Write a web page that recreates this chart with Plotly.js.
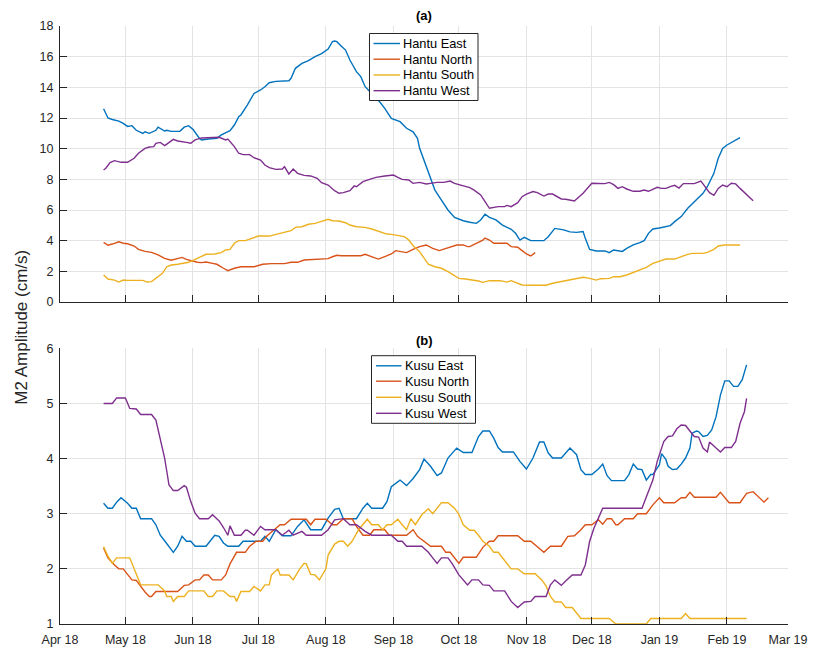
<!DOCTYPE html>
<html>
<head>
<meta charset="utf-8">
<script src="https://cdn.plot.ly/plotly-3.0.1.min.js"></script>
<style>html,body{margin:0;padding:0;background:#fff;}#chart{width:814px;height:648px;}</style>
</head>
<body>
<div id="chart"></div>
<script>
// "MM-DD": months Apr-Dec are 2018, Jan-Mar are 2019
function toDate(s){ var m = parseInt(s.slice(0,2),10); return (m >= 4 ? '2018-' : '2019-') + s; }

// ---------- Panel (a) Hantu ----------
var hantuEastDates = ["04-21","04-23","04-25","04-28","04-30","05-02","05-04","05-06","05-09","05-10","05-12","05-15","05-16","05-19","05-20","05-22","05-26","05-28","05-30","06-01","06-04","06-05","06-08","06-12","06-14","06-17","06-18","06-20","06-22","06-23","06-26","06-29","07-02","07-04","07-06","07-09","07-15","07-16","07-18","07-21","07-24","07-27","07-30","08-02","08-04","08-05","08-06","08-08","08-10","08-12","08-15","08-17","08-19","08-22","08-25","08-28","08-31","09-04","09-07","09-10","09-12","09-13","09-16","09-18","09-20","09-23","09-26","09-29","10-03","10-06","10-09","10-11","10-13","10-15","10-18","10-21","10-25","10-27","10-29","10-31","11-03","11-09","11-11","11-14","11-18","11-21","11-24","11-27","11-28","11-30","12-03","12-07","12-09","12-11","12-13","12-15","12-17","12-20","12-23","12-25","12-27","12-29","01-01","01-04","01-06","01-08","01-11","01-14","01-17","01-19","01-21","01-23","01-26","01-28","01-30","02-01","02-03","02-07"];
var hantuEast = [12.6,12.0,11.9,11.8,11.65,11.45,11.5,11.2,11.0,11.1,11.0,11.2,11.4,11.15,11.2,11.13,11.13,11.4,11.5,11.26,10.67,10.57,10.63,10.67,10.9,11.1,11.17,11.54,12.09,12.2,12.85,13.6,13.83,14.04,14.3,14.39,14.43,14.59,15.24,15.56,15.74,16.0,16.2,16.5,16.98,17.02,16.98,16.7,16.43,15.78,15.02,14.7,14.04,13.6,13.17,12.63,11.98,11.76,11.33,11.1,10.67,10.02,8.83,7.96,7.3,6.65,6.0,5.52,5.3,5.2,5.13,5.35,5.72,5.52,5.35,5.02,4.74,4.48,4.04,4.22,4.0,4.0,4.26,4.8,4.7,4.57,4.54,4.59,4.15,3.43,3.33,3.33,3.22,3.39,3.35,3.3,3.5,3.72,3.87,4.0,4.48,4.76,4.83,4.91,4.98,5.24,5.57,6.11,6.54,6.8,7.09,7.52,8.39,9.37,10.02,10.24,10.39,10.72];

var hantuNorthDates = ["04-21","04-23","04-25","04-28","04-30","05-02","05-05","05-07","05-10","05-13","05-16","05-19","05-22","05-25","05-27","05-29","05-31","06-03","06-05","06-07","06-10","06-12","06-15","06-17","06-20","06-23","06-29","07-03","07-07","07-13","07-16","07-19","07-22","07-25","07-28","08-02","08-04","08-06","08-08","08-17","08-19","08-22","08-25","08-28","08-31","09-02","09-04","09-07","09-10","09-13","09-16","09-19","09-22","09-25","09-28","09-30","10-03","10-05","10-06","10-09","10-12","10-13","10-15","10-17","10-23","10-25","10-28","10-30","11-01","11-03","11-05"];
var hantuNorth = [3.89,3.7,3.78,3.93,3.83,3.8,3.65,3.43,3.3,3.24,3.07,2.85,2.72,2.85,2.91,2.78,2.7,2.59,2.57,2.61,2.52,2.46,2.2,2.04,2.2,2.3,2.3,2.46,2.5,2.5,2.59,2.59,2.74,2.76,2.8,2.83,2.95,3.05,3.02,3.02,3.11,2.96,2.8,2.96,3.13,3.35,3.28,3.22,3.43,3.61,3.72,3.5,3.35,3.5,3.61,3.72,3.72,3.61,3.61,3.83,4.04,4.17,4.04,3.83,3.83,3.61,3.57,3.35,3.13,3.0,3.22];

var hantuSouthDates = ["04-21","04-23","04-26","04-28","04-30","05-02","05-09","05-11","05-13","05-15","05-18","05-20","05-22","05-25","05-28","05-30","06-02","06-05","06-07","06-11","06-14","06-16","06-18","06-20","06-22","06-25","06-27","07-01","07-06","07-09","07-12","07-16","07-18","07-21","07-24","07-27","07-30","08-02","08-04","08-07","08-10","08-12","08-15","08-19","08-22","08-26","08-29","08-31","09-03","09-06","09-08","09-10","09-13","09-15","09-17","09-20","09-23","09-26","09-29","10-01","10-04","10-08","10-10","10-12","10-15","10-20","10-23","10-25","10-28","10-30","11-03","11-10","11-13","11-15","11-18","11-21","11-22","11-25","11-27","11-30","12-03","12-05","12-09","12-11","12-14","12-17","12-20","12-23","12-26","12-29","01-01","01-04","01-08","01-11","01-14","01-16","01-21","01-23","01-26","01-28","01-31","02-07"];
var hantuSouth = [1.76,1.5,1.43,1.3,1.43,1.41,1.41,1.3,1.33,1.54,1.87,2.3,2.41,2.46,2.52,2.59,2.78,3.0,3.11,3.13,3.22,3.39,3.43,3.83,4.0,4.0,4.11,4.3,4.3,4.41,4.48,4.65,4.87,4.91,5.07,5.13,5.26,5.39,5.3,5.28,5.17,5.02,4.91,4.87,4.76,4.59,4.43,4.41,4.33,4.26,4.04,3.67,3.28,2.91,2.46,2.3,2.2,1.98,1.7,1.54,1.5,1.43,1.37,1.28,1.39,1.39,1.3,1.39,1.22,1.11,1.09,1.09,1.22,1.28,1.37,1.45,1.48,1.54,1.61,1.54,1.43,1.52,1.54,1.65,1.65,1.76,1.93,2.09,2.26,2.52,2.67,2.8,2.8,2.96,3.11,3.17,3.17,3.24,3.43,3.65,3.72,3.72];

var hantuWestDates = ["04-21","04-22","04-24","04-26","04-29","05-02","05-05","05-07","05-10","05-12","05-14","05-15","05-17","05-19","05-20","05-23","05-25","05-27","05-29","05-31","06-02","06-05","06-08","06-11","06-13","06-16","06-17","06-20","06-22","06-24","06-27","06-29","07-02","07-04","07-06","07-09","07-12","07-13","07-15","07-17","07-19","07-22","07-25","07-28","07-30","08-02","08-05","08-07","08-09","08-12","08-14","08-15","08-18","08-21","08-24","08-28","08-31","09-01","09-03","09-05","09-08","09-10","09-13","09-16","09-18","09-21","09-24","09-27","09-29","10-03","10-06","10-08","10-11","10-13","10-15","10-19","10-22","10-23","10-25","10-28","10-30","11-01","11-04","11-06","11-09","11-11","11-13","11-17","11-19","11-23","11-27","12-01","12-07","12-09","12-11","12-13","12-15","12-17","12-20","12-23","12-25","12-27","12-29","12-31","01-02","01-04","01-06","01-08","01-10","01-12","01-17","01-20","01-21","01-24","01-26","01-28","01-30","02-01","02-03","02-05","02-07","02-10","02-13"];
var hantuWest = [8.61,8.72,9.09,9.22,9.11,9.11,9.37,9.7,10.02,10.11,10.13,10.35,10.41,10.2,10.3,10.61,10.5,10.43,10.41,10.35,10.57,10.7,10.72,10.7,10.74,10.57,10.63,10.13,9.7,9.61,9.61,9.41,9.26,8.93,8.76,8.65,8.67,8.83,8.35,8.67,8.39,8.26,8.22,8.07,7.78,7.63,7.26,7.09,7.13,7.26,7.57,7.52,7.85,8.0,8.13,8.22,8.28,8.28,8.13,8.0,7.96,7.74,7.8,7.7,7.74,7.8,7.8,7.89,7.74,7.59,7.46,7.3,6.98,6.54,6.11,6.22,6.22,6.3,6.22,6.48,6.87,7.04,7.2,7.13,6.91,7.04,7.04,6.72,6.7,6.59,7.09,7.74,7.72,7.8,7.65,7.41,7.52,7.37,7.22,7.22,7.3,7.22,7.35,7.48,7.41,7.41,7.52,7.61,7.43,7.72,7.72,7.89,7.7,7.13,6.96,7.41,7.63,7.52,7.74,7.7,7.41,7.04,6.61];

// ---------- Panel (b) Kusu ----------
var kusuEastDates = ["04-21","04-23","04-25","04-27","04-29","05-02","05-04","05-06","05-08","05-13","05-15","05-17","05-19","05-21","05-23","05-25","05-27","05-29","05-31","06-02","06-07","06-09","06-11","06-13","06-15","06-17","06-22","06-24","06-30","07-02","07-04","07-06","07-09","07-12","07-16","07-19","07-22","07-25","07-30","08-02","08-05","08-07","08-09","08-15","08-18","08-20","08-22","08-27","08-29","08-31","09-04","09-07","09-10","09-13","09-15","09-18","09-21","09-23","09-26","09-30","10-03","10-07","10-10","10-12","10-15","10-17","10-19","10-21","10-26","10-29","11-01","11-04","11-07","11-09","11-11","11-13","11-17","11-21","11-24","11-26","11-28","12-01","12-04","12-06","12-08","12-10","12-16","12-18","12-20","12-22","12-24","12-26","12-28","12-29","01-01","01-02","01-04","01-05","01-07","01-09","01-11","01-13","01-15","01-16","01-18","01-19","01-21","01-23","01-25","01-27","01-29","01-31","02-02","02-04","02-06","02-08","02-10"];
var kusuEast = [3.19,3.1,3.1,3.21,3.29,3.19,3.1,3.1,2.91,2.91,2.8,2.61,2.51,2.41,2.3,2.41,2.59,2.5,2.5,2.41,2.41,2.51,2.61,2.59,2.47,2.41,2.41,2.5,2.5,2.5,2.59,2.5,2.71,2.6,2.6,2.77,2.89,2.71,2.71,2.92,3.08,3.1,2.91,2.91,3.1,3.19,3.1,3.1,3.22,3.49,3.61,3.51,3.64,3.8,3.99,3.86,3.69,3.74,4.01,4.19,4.11,4.11,4.4,4.5,4.5,4.37,4.2,4.12,4.12,3.95,3.81,4.01,4.3,4.3,4.1,4.01,4.01,4.19,4.07,3.8,3.71,3.71,3.81,3.9,3.69,3.6,3.6,3.71,3.9,3.81,3.8,3.61,3.71,3.71,3.89,4.09,3.98,3.86,3.8,3.81,3.9,4.01,4.19,4.46,4.5,4.49,4.4,4.42,4.52,4.76,5.15,5.41,5.41,5.31,5.31,5.43,5.7];

var kusuNorthDates = ["04-21","04-23","04-26","04-28","04-30","05-02","05-04","05-06","05-08","05-10","05-12","05-13","05-15","05-25","05-28","05-30","06-02","06-04","06-06","06-08","06-10","06-14","06-16","06-18","06-21","06-25","06-27","06-30","07-03","07-05","07-08","07-11","07-13","07-16","07-23","07-25","07-27","08-01","08-04","08-06","08-09","08-13","08-15","08-18","08-21","08-23","08-28","08-30","09-07","09-10","09-12","09-15","09-18","09-23","09-25","09-27","10-01","10-03","10-09","10-12","10-15","10-17","10-19","10-28","10-31","11-03","11-06","11-09","11-12","11-17","11-20","11-23","11-26","11-28","12-01","12-04","12-06","12-08","12-10","12-12","12-13","12-16","12-20","12-22","12-26","12-29","01-01","01-03","01-08","01-11","01-13","01-15","01-17","01-27","01-29","01-31","02-02","02-07","02-10","02-13","02-16","02-18","02-20"];
var kusuNorth = [2.38,2.2,2.07,2.0,2.0,1.89,1.8,1.79,1.68,1.58,1.5,1.5,1.59,1.59,1.7,1.71,1.8,1.8,1.89,1.89,1.8,1.8,1.89,2.09,2.3,2.3,2.41,2.5,2.5,2.6,2.7,2.8,2.8,2.9,2.9,2.8,2.9,2.9,2.8,2.8,2.91,2.91,2.77,2.61,2.61,2.71,2.71,2.61,2.61,2.71,2.59,2.5,2.41,2.41,2.3,2.3,2.1,2.21,2.21,2.39,2.5,2.5,2.6,2.6,2.5,2.5,2.4,2.3,2.41,2.41,2.59,2.6,2.71,2.8,2.8,2.89,2.81,2.91,2.91,2.8,2.8,2.91,2.91,3.0,3.0,3.16,3.29,3.2,3.2,3.29,3.29,3.39,3.3,3.3,3.39,3.29,3.2,3.2,3.37,3.4,3.29,3.21,3.29];

var kusuSouthDates = ["04-21","04-23","04-25","04-27","05-03","05-06","05-08","05-16","05-19","05-20","05-22","05-23","05-25","05-28","05-30","06-06","06-08","06-10","06-12","06-15","06-18","06-20","06-21","06-23","06-27","06-29","07-02","07-04","07-06","07-07","07-10","07-11","07-15","07-17","07-20","07-22","07-23","07-25","07-27","07-29","08-01","08-02","08-05","08-07","08-09","08-11","08-13","08-16","08-18","08-20","08-22","08-25","08-27","08-29","08-31","09-03","09-05","09-07","09-09","09-11","09-14","09-17","09-19","09-21","09-23","09-26","09-29","10-01","10-03","10-06","10-08","10-10","10-12","10-15","10-17","10-19","10-21","10-23","10-25","10-28","10-31","11-05","11-08","11-10","11-12","11-14","11-17","11-19","11-22","11-24","11-26","12-09","12-12","12-26","12-28","01-11","01-13","01-15","02-10"];
var kusuSouth = [2.4,2.23,2.1,2.2,2.2,1.89,1.71,1.71,1.6,1.5,1.5,1.41,1.5,1.5,1.6,1.6,1.5,1.5,1.6,1.6,1.5,1.5,1.41,1.59,1.59,1.68,1.6,1.71,1.71,1.89,2.0,1.89,1.89,1.8,2.0,2.1,2.09,1.9,1.89,1.8,2.0,2.25,2.45,2.5,2.5,2.41,2.5,2.71,2.8,2.9,2.8,2.8,2.71,2.8,2.8,2.9,2.8,2.71,2.91,2.8,2.98,3.09,3.0,3.1,3.2,3.2,3.1,2.99,2.8,2.7,2.7,2.61,2.5,2.41,2.3,2.3,2.2,2.1,2.0,2.0,1.91,1.91,1.8,1.69,1.5,1.4,1.4,1.3,1.3,1.2,1.1,1.1,1.0,1.0,1.1,1.1,1.19,1.1,1.1];

var kusuWestDates = ["04-21","04-25","04-27","05-01","05-03","05-06","05-08","05-13","05-15","05-17","05-19","05-20","05-21","05-23","05-25","05-28","05-29","05-31","06-02","06-04","06-08","06-10","06-13","06-15","06-17","06-18","06-20","06-23","06-25","06-26","06-29","07-02","07-04","07-09","07-12","07-15","07-17","07-21","07-23","07-30","08-02","08-05","08-09","08-12","08-15","08-19","08-22","08-31","09-03","09-05","09-07","09-14","09-17","09-19","09-21","09-23","09-26","09-28","10-01","10-05","10-07","10-10","10-12","10-15","10-17","10-22","10-25","10-28","10-31","11-03","11-05","11-10","11-12","11-14","11-17","11-19","11-22","11-26","11-28","11-30","12-02","12-04","12-06","12-24","12-26","12-28","12-29","12-31","01-03","01-05","01-07","01-09","01-11","01-13","01-15","01-17","01-19","01-21","01-23","01-24","01-27","01-29","01-31","02-03","02-05","02-07","02-09","02-10"];
var kusuWest = [5.0,5.0,5.1,5.1,4.91,4.9,4.8,4.8,4.7,4.37,4.01,3.77,3.52,3.42,3.42,3.51,3.48,3.22,3.01,2.91,2.91,2.98,2.87,2.75,2.61,2.78,2.61,2.61,2.7,2.7,2.61,2.77,2.71,2.71,2.61,2.7,2.61,2.68,2.61,2.61,2.71,2.89,2.91,2.8,2.8,2.68,2.61,2.61,2.5,2.5,2.41,2.41,2.3,2.2,2.1,2.2,2.2,2.09,1.89,1.71,1.8,1.8,1.71,1.7,1.6,1.6,1.41,1.3,1.4,1.41,1.5,1.5,1.71,1.8,1.7,1.78,1.89,1.89,2.07,2.5,2.74,2.92,3.1,3.1,3.31,3.52,3.61,3.95,4.31,4.4,4.41,4.54,4.61,4.6,4.5,4.4,4.39,4.19,4.12,4.3,4.19,4.12,4.2,4.2,4.31,4.64,4.85,5.09];

var seriesColors = ['#0072BD', '#D95319', '#EDB120', '#7E2F8E'];
var topNames = ['Hantu East', 'Hantu North', 'Hantu South', 'Hantu West'];
var bottomNames = ['Kusu East', 'Kusu North', 'Kusu South', 'Kusu West'];
var topDates = [hantuEastDates, hantuNorthDates, hantuSouthDates, hantuWestDates];
var topVals = [hantuEast, hantuNorth, hantuSouth, hantuWest];
var botDates = [kusuEastDates, kusuNorthDates, kusuSouthDates, kusuWestDates];
var botVals = [kusuEast, kusuNorth, kusuSouth, kusuWest];

var LW = 1.4;
var traces = [];
for (var i = 0; i < 4; i++) {
  traces.push({type:'scatter', mode:'lines', name: topNames[i], x: topDates[i].map(toDate), y: topVals[i],
    xaxis:'x', yaxis:'y', showlegend:false, line:{color: seriesColors[i], width:LW}});
}
for (var j = 0; j < 4; j++) {
  traces.push({type:'scatter', mode:'lines', name: bottomNames[j], x: botDates[j].map(toDate), y: botVals[j],
    xaxis:'x2', yaxis:'y2', showlegend:false, line:{color: seriesColors[j], width:LW}});
}

var FONT = 'Liberation Sans, Arial, Helvetica, sans-serif';
var AX = '#262626';
var GRID = '#e3e3e3';
var TICKSIZE = 12.5;
var W = 814, H = 648, ML = 60, MR = 26, MT = 26, MB = 24;
var PW = W - ML - MR, PH = H - MT - MB;
function px2x(p){ return (p - ML) / PW; }
function px2y(p){ return (H - MB - p) / PH; }

function xAx(anchor, labels) {
  return {anchor: anchor, domain:[0,1], type:'date', range:['2018-04-01','2019-03-01'],
    tick0:'2018-04-01', dtick:'M1', tickformat:'%b %y', showticklabels: labels,
    ticks:'inside', ticklen:7, tickwidth:1, tickcolor:AX, showline:true, linecolor:AX, linewidth:1,
    showgrid:true, gridcolor:GRID, gridwidth:1, zeroline:false, fixedrange:true, ticklabelstandoff:4,
    tickfont:{family:FONT, size:TICKSIZE, color:AX}};
}
function yAx(domain, range, dtick) {
  return {domain: domain, range: range, dtick: dtick, tick0: 0, ticks:'inside', ticklen:7, tickwidth:1,
    tickcolor:AX, showline:true, linecolor:AX, linewidth:1, showgrid:true, gridcolor:GRID, gridwidth:1,
    zeroline:false, fixedrange:true, ticklabelstandoff:3, tickfont:{family:FONT, size:TICKSIZE, color:AX}};
}

// Hand-built MATLAB-style legend boxes (compact row spacing)
var shapes = [], annotations = [];
function addLegend(names, box, rowY, lineX0, lineX1, textX) {
  shapes.push({type:'rect', xref:'paper', yref:'paper', x0:px2x(box[0]), x1:px2x(box[1]), y0:px2y(box[2]), y1:px2y(box[3]),
    line:{color:AX, width:1}, fillcolor:'#ffffff', layer:'above'});
  for (var k = 0; k < names.length; k++) {
    var yy = px2y(rowY[k]);
    shapes.push({type:'line', xref:'paper', yref:'paper', x0:px2x(lineX0), x1:px2x(lineX1), y0:yy, y1:yy,
      line:{color:seriesColors[k], width:LW}, layer:'above'});
    annotations.push({text:names[k], xref:'paper', yref:'paper', x:px2x(textX), y:yy, xanchor:'left', yanchor:'middle',
      showarrow:false, font:{family:FONT, size:12.8, color:'#000'}});
  }
}
addLegend(topNames, [369.5, 478, 33.5, 100.5], [43.5, 59.2, 75, 90.7], 373.5, 400, 401);
addLegend(bottomNames, [371.5, 475.5, 355.7, 423.3], [365.8, 381.2, 397.3, 413.3], 376, 401.5, 403);

annotations.push({text:'<b>(a)</b>', xref:'paper', yref:'paper', x:0.5, y:px2y(15.5), showarrow:false, xanchor:'center', yanchor:'middle', font:{family:FONT, size:13, color:'#000'}});
annotations.push({text:'<b>(b)</b>', xref:'paper', yref:'paper', x:0.5, y:px2y(340), showarrow:false, xanchor:'center', yanchor:'middle', font:{family:FONT, size:13, color:'#000'}});
annotations.push({text:'M2 Amplitude (cm/s)', xref:'paper', yref:'paper', x:px2x(20.7), y:px2y(327), showarrow:false, textangle:-90, xanchor:'center', yanchor:'middle', font:{family:FONT, size:17, color:AX}});

var layout = {
  width:W, height:H,
  margin:{l:ML, r:MR, t:MT, b:MB, pad:0},
  paper_bgcolor:'#ffffff', plot_bgcolor:'#ffffff',
  font:{family:FONT, size:12, color:AX},
  showlegend:false,
  xaxis: xAx('y', false),
  yaxis: yAx([(H - MB - 302) / PH, 1], [0, 18], 2),
  xaxis2: xAx('y2', true),
  yaxis2: yAx([0, (H - MB - 348.3) / PH], [1, 6], 1),
  shapes: shapes,
  annotations: annotations
};

Plotly.newPlot('chart', traces, layout, {displayModeBar:false, staticPlot:true});
</script>
</body>
</html>
